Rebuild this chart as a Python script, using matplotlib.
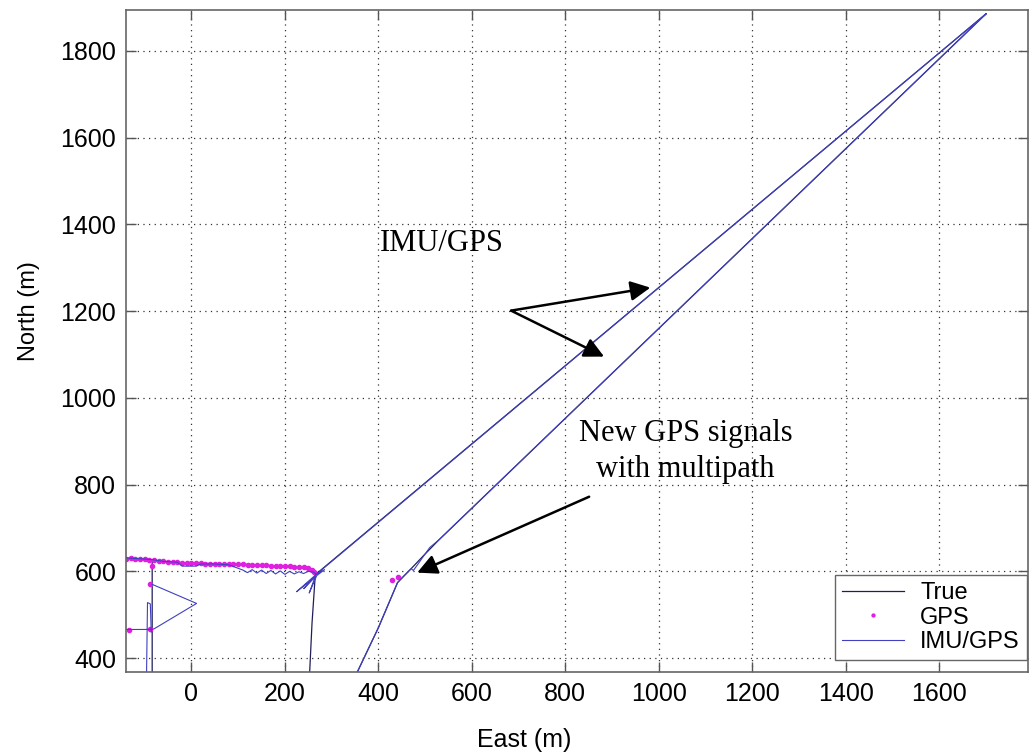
import numpy as np
import matplotlib
matplotlib.use("Agg")
import matplotlib.pyplot as plt

nan = np.nan

# True trajectory (segments separated by NaN)
true_east = [-140, -110, -84, -60, -30, 0, 40, 80, 120, 160, 200, 230, 250, 262, 267, 1700,
             nan, -84, -84,
             nan, 265, 258, 253,
             nan, 1700, 530, 500, 470, 441, 400, 355]
true_north = [630, 629, 626, 623, 621, 619, 618, 617, 616, 614, 612, 610, 606, 600, 594, 1885,
              nan, 626, 368,
              nan, 592, 480, 368,
              nan, 1885, 673, 640, 606, 574, 470, 368]

# IMU/GPS solution
imu_east = [-140, -110, -84, -60, -30, -20, 10, 20, 50, 80, 110, 120, 130, 140, 150, 160, 170,
            180, 190, 200, 210, 220, 230, 240, 250, 262, 267, 225, 262, 240, 265, 252, 268, 285,
            267, 1700,
            nan, -84, 11, -79, -84, -140,
            nan, -96, -94, -88, -86,
            nan, 1700, 530, 510, 500, 475, 470, 455, 441, 400, 355]
imu_north = [631, 629, 627, 623, 621, 612, 612, 617, 617, 615, 603, 597, 604, 596, 603, 595, 602,
             594, 601, 593, 600, 594, 599, 595, 600, 598, 593, 553, 585, 560, 588, 550, 590, 604,
             593, 1885,
             nan, 570, 526, 468, 466, 466,
             nan, 368, 528, 525, 460,
             nan, 1885, 673, 655, 640, 602, 606, 590, 574, 470, 368]

# GPS fixes
gps_east = [-140, -130, -120, -110, -100, -90, -80, -70, -60, -50, -40, -30, -20, -10, 0, 10,
            20, 30, 40, 50, 60, 70, 80, 90, 100, 110, 120, 130, 140, 150, 160, 170, 180, 190,
            200, 210, 220, 230, 240, 250, 258, 263,
            -133, -88, -88, -84, 430, 441]
gps_north = [629, 630, 629, 628, 628, 627, 625, 624, 623, 622, 621, 621, 620, 620, 619, 619,
             619, 618, 618, 618, 617, 617, 617, 616, 616, 616, 615, 615, 615, 614, 614, 613, 613,
             613, 612, 612, 611, 611, 609, 607, 603, 598,
             464, 468, 570, 612, 581, 587]

x_ticks = [0, 200, 400, 600, 800, 1000, 1200, 1400, 1600]
y_ticks = [400, 600, 800, 1000, 1200, 1400, 1600, 1800]

TRUE_COLOR = "#1e1e5a"
IMU_COLOR = "#4040c0"
GPS_COLOR = "#e020e0"

plt.rcParams.update({
    "font.family": ["Liberation Sans", "DejaVu Sans"],
    "font.size": 18,
    "xtick.direction": "in",
    "ytick.direction": "in",
    "xtick.top": True,
    "ytick.right": True,
})

fig = plt.figure(figsize=(10.32, 7.53), dpi=100)
ax = fig.add_axes([0.1221, 0.1076, 0.8740, 0.8791])

ax.plot(true_east, true_north, color=TRUE_COLOR, lw=0.9, label="True")
ax.plot(gps_east, gps_north, linestyle="none", marker=".", markersize=6,
        color=GPS_COLOR, label="GPS")
ax.plot(imu_east, imu_north, color=IMU_COLOR, lw=0.8, label="IMU/GPS")

ax.set_xlim(-140, 1790)
ax.set_ylim(368, 1894)
ax.set_xticks(x_ticks)
ax.set_yticks(y_ticks)
ax.grid(True, linestyle=(0, (1, 3.5)), color="#333333", lw=0.9)
ax.tick_params(length=7, width=1, color="#555555", pad=7)
for s in ax.spines.values():
    s.set_color("#666666")
    s.set_linewidth(1.2)

ax.set_xlabel("East (m)", labelpad=14)
ax.xaxis.set_label_coords(0.442, -0.085)
ax.set_ylabel("North (m)", labelpad=12, fontsize=17)
ax.yaxis.set_label_coords(-0.095, 0.545)

serif = ["Liberation Serif", "DejaVu Serif"]
arrow = dict(arrowstyle="-|>", color="black", lw=1.8, mutation_scale=30, shrinkA=0, shrinkB=0)
ax.text(535, 1355, "IMU/GPS", family=serif, fontsize=22, ha="center", va="center")
ax.annotate("", xy=(982, 1254), xytext=(684, 1201), arrowprops=arrow)
ax.annotate("", xy=(883, 1095), xytext=(684, 1201), arrowprops=arrow)

ax.text(1057, 876, "New GPS signals\nwith multipath", family=serif, fontsize=22,
        ha="center", va="center", linespacing=1.3)
ax.annotate("", xy=(483, 597), xytext=(851, 772), arrowprops=arrow)

leg = ax.legend(loc="lower right", bbox_to_anchor=(0.999, 0.018), borderaxespad=0,
                fontsize=17, fancybox=False, framealpha=1, edgecolor="#666666",
                handlelength=2.6, handletextpad=0.7, labelspacing=0.1, borderpad=0.3,
                markerscale=0.7)
leg.get_frame().set_linewidth(1.0)

fig.savefig("out.png", dpi=100, facecolor="white")
